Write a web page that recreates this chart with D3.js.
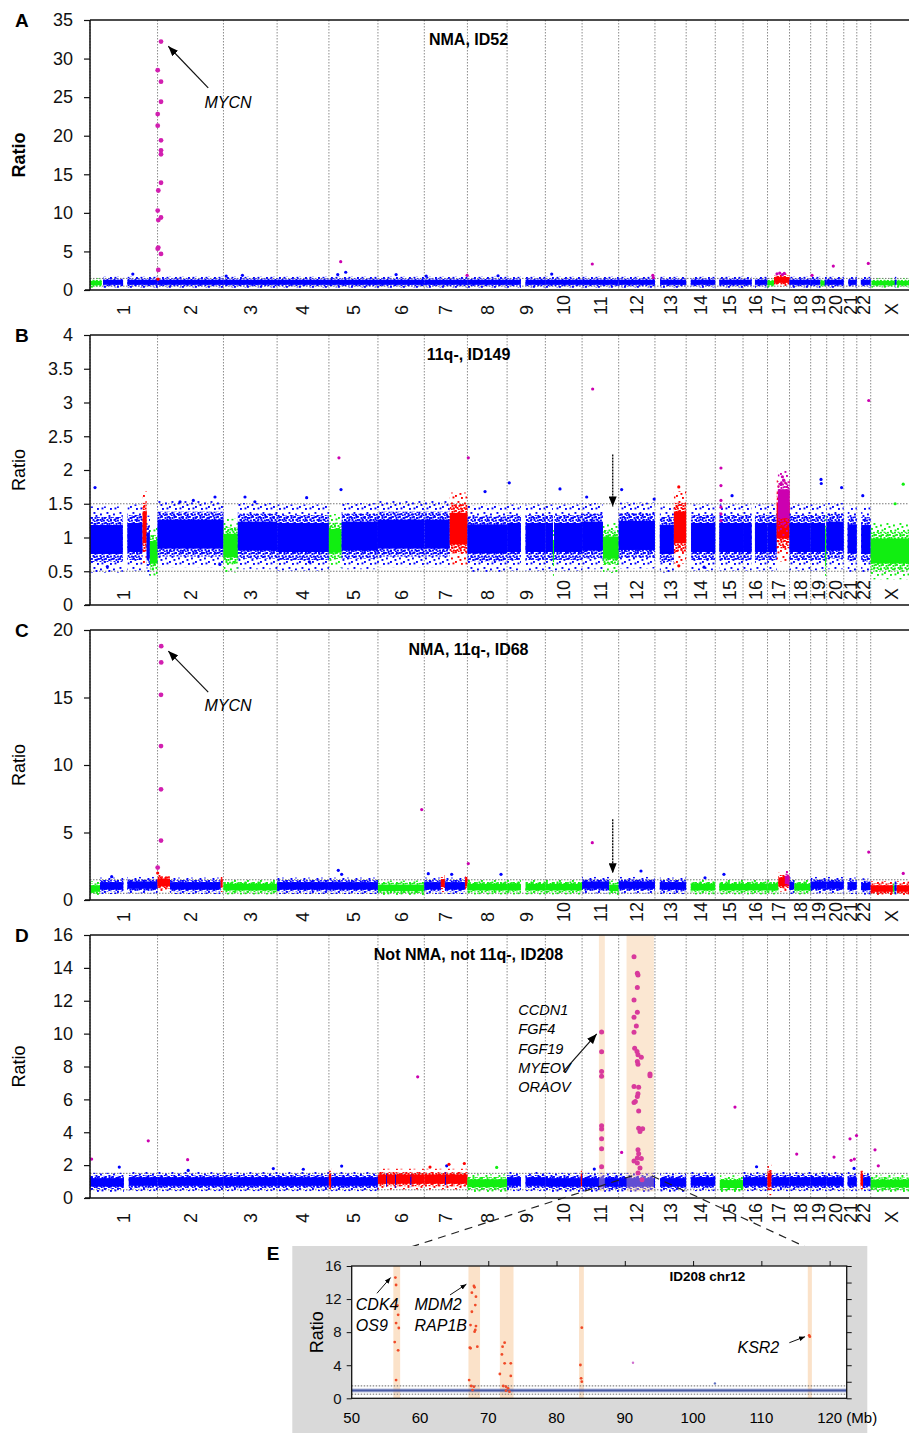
<!DOCTYPE html>
<html>
<head>
<meta charset="utf-8">
<script src="https://cdn.jsdelivr.net/npm/d3@7"></script>
<style>
  body { margin: 0; background: #fff; }
  text { font-family: "Liberation Sans", Arial, Helvetica, sans-serif; }
</style>
</head>
<body>
<svg id="fig" width="909" height="1433"></svg>
<script>
// ---- genome (hg19 chromosome lengths, Mb) ----
const chrNames = ['1','2','3','4','5','6','7','8','9','10','11','12','13','14','15','16','17','18','19','20','21','22','X'];
const chrLengths = [249.25,243.2,198.0,191.15,180.9,171.1,159.1,146.4,141.2,135.5,135.0,133.85,115.2,107.35,102.5,90.35,81.2,78.1,59.1,63.0,48.1,51.3,155.3];

// segments: [chr, startMb, endMb, colour, mean ratio, spread]
const segA = [
  ['1',0,43,'g',0.9,0.15],['1',48,122,'b',1.0,0.2],['1',138,249.25,'b',1.0,0.2],
  ['2',0,243.2,'b',1.0,0.2],['3',0,198,'b',1.0,0.2],['4',0,191.15,'b',1.0,0.2],
  ['5',0,180.9,'b',1.0,0.2],['6',0,171.1,'b',1.0,0.2],['7',0,159.1,'b',1.0,0.2],
  ['8',0,146.4,'b',1.0,0.2],['9',0,51,'b',1.0,0.2],['9',68,141.2,'b',1.0,0.2],
  ['10',0,135.5,'b',1.0,0.2],['11',0,135,'b',1.0,0.2],['12',0,133.85,'b',1.0,0.2],
  ['13',19,115.2,'b',1.0,0.2],['14',17,107.35,'b',1.0,0.2],['15',15,102.5,'b',1.0,0.2],
  ['16',0,32,'b',1.0,0.2],['16',44,90.35,'b',1.0,0.2],
  ['17',0,24,'g',0.9,0.15],['17',24,81.2,'r',1.3,0.25],
  ['18',0,78.1,'b',1.0,0.2],['19',0,36,'b',1.0,0.2],['19',36,52,'g',0.9,0.15],['19',52,59.1,'b',1.0,0.2],
  ['20',0,63,'b',1.0,0.2],['21',17,48.1,'b',1.0,0.2],['22',15,51.3,'b',1.0,0.2],
  ['X',3,89,'g',0.9,0.15],['X',89,96,'b',1.0,0.2],['X',96,155.3,'g',0.9,0.15]
];
const segB = [
  ['1',0,121,'b',0.97,0.2],['1',138,194,'b',1.0,0.2],['1',194,209,'r',1.15,0.22],
  ['1',209,221,'b',0.88,0.18],['1',221,249.25,'g',0.78,0.15],
  ['2',0,243.2,'b',1.05,0.2],['3',0,53,'g',0.88,0.16],['3',53,198,'b',1.02,0.2],
  ['4',0,191.15,'b',1.0,0.2],['5',0,47,'g',0.95,0.16],['5',47,180.9,'b',1.02,0.2],
  ['6',0,171.1,'b',1.05,0.2],['7',0,94,'b',1.05,0.2],['7',94,159.1,'r',1.13,0.22],
  ['8',0,146.4,'b',0.98,0.2],['9',0,51,'b',1.0,0.2],['9',68,141.2,'b',1.0,0.2],
  ['10',0,28,'b',1.0,0.2],['10',28,32,'g',0.8,0.15],['10',32,135.5,'b',1.0,0.2],
  ['11',0,77,'b',1.02,0.2],['11',77,135,'g',0.85,0.15],['12',0,133.85,'b',1.03,0.2],
  ['13',18,70,'b',0.97,0.2],['13',70,115.2,'r',1.15,0.22],['14',18,107.35,'b',1.0,0.2],
  ['15',15,102.5,'b',1.0,0.2],['16',0,32,'b',1.0,0.2],['16',44,90.35,'b',1.0,0.2],
  ['17',0,34,'b',1.0,0.2],['17',34,81.2,'r',1.25,0.25],['17',38,81.2,'m',1.5,0.2],
  ['18',0,78.1,'b',1.0,0.2],['19',0,53,'b',1.0,0.2],['19',53,57,'g',0.85,0.2],['19',57,59.1,'b',1.0,0.2],
  ['20',0,63,'b',1.02,0.2],['21',14,48.1,'b',0.98,0.2],['22',16,51.3,'b',0.97,0.2],
  ['X',0,155.3,'g',0.8,0.17]
];
const segC = [
  ['1',0,37,'g',0.85,0.17],['1',37,123,'b',1.05,0.2],['1',138,249.25,'b',1.1,0.2],
  ['2',0,46,'r',1.3,0.22],['2',46,233,'b',1.05,0.2],['2',233,240,'r',1.25,0.22],
  ['3',0,198,'g',0.95,0.17],['4',0,191.15,'b',1.05,0.2],['5',0,180.9,'b',1.05,0.2],
  ['6',0,171.1,'g',0.9,0.17],['7',0,61,'b',1.05,0.2],['7',61,76,'r',1.25,0.22],
  ['7',76,150,'b',1.05,0.2],['7',150,159.1,'r',1.3,0.22],
  ['8',0,146.4,'g',0.95,0.17],['9',0,51,'g',0.95,0.17],['9',68,141.2,'g',0.95,0.17],
  ['10',0,135.5,'g',0.95,0.17],['11',0,100,'b',1.1,0.2],['11',100,135,'g',0.9,0.17],
  ['12',0,133.85,'b',1.1,0.2],['13',18,115.2,'b',1.05,0.2],['14',17,107.35,'g',0.95,0.17],
  ['15',15,102.5,'g',0.95,0.17],['16',0,90.35,'g',0.95,0.17],
  ['17',0,40,'g',0.95,0.17],['17',40,81.2,'r',1.35,0.25],['17',64,80,'m',1.5,0.22],
  ['18',0,18,'b',1.05,0.2],['18',18,78.1,'g',0.95,0.17],['19',0,59.1,'b',1.1,0.2],
  ['20',0,63,'b',1.1,0.2],['21',14,48.1,'b',1.05,0.2],['22',16,51.3,'b',1.0,0.2],
  ['X',0,82,'r',0.85,0.17],['X',82,88,'g',0.85,0.17],['X',88,96,'b',0.9,0.17],['X',96,155.3,'r',0.85,0.17]
];
const segD = [
  ['1',0,125,'b',0.95,0.2],['1',143,249.25,'b',1.0,0.2],['2',0,243.2,'b',1.0,0.2],
  ['3',0,198,'b',1.0,0.2],['4',0,191.15,'b',1.0,0.2],['5',0,8,'r',1.1,0.3],['5',8,180.9,'b',1.0,0.2],
  ['6',0,171.1,'r',1.15,0.22],['7',0,159.1,'r',1.15,0.22],
  ['6',30,33,'b',1.05,0.2],['6',63,66,'b',1.05,0.2],['6',120,123,'b',1.05,0.2],['7',77,80,'b',1.05,0.2],
  ['8',0,146.4,'g',0.9,0.18],['9',0,51,'b',1.0,0.2],['9',68,141.2,'b',1.0,0.2],
  ['10',0,131,'b',0.95,0.2],['10',131,135.5,'r',1.1,0.3],['11',0,135,'b',0.95,0.2],
  ['12',0,133.85,'b',0.95,0.2],['13',19,115.2,'b',0.95,0.2],['14',17,107.35,'b',1.0,0.2],
  ['15',17,102.5,'g',0.85,0.18],['16',0,90.35,'b',1.0,0.2],
  ['17',0,15,'r',1.1,0.35],['17',15,81.2,'b',1.0,0.2],['18',0,78.1,'b',1.0,0.2],
  ['19',0,59.1,'b',1.0,0.2],['20',0,63,'b',1.0,0.2],['21',14,48.1,'b',1.0,0.2],
  ['22',14,23,'r',1.1,0.3],['22',23,51.3,'b',1.0,0.2],['X',0,155.3,'g',0.88,0.18]
];

// single probes off the band: [chr, Mb, ratio, colour]
const ptsA = [
  ['1',158,2.07,'b'],['2',1.5,1.4,'r'],['3',10,1.8,'b'],['3',70,1.9,'b'],['5',32.5,2.0,'b'],
  ['5',43.5,3.67,'m'],['5',62,2.3,'b'],['6',67,2.0,'b'],['7',7,1.8,'b'],['7',158,1.9,'m'],
  ['8',113,1.85,'b'],['10',23.4,2.07,'b'],['11',37.7,3.37,'m'],['12',126,1.9,'m'],['12',128,1.6,'m'],
  ['17',35,2.1,'m'],['17',45,2.2,'m'],['17',55,2.0,'m'],['17',62,2.15,'m'],['19',5,1.9,'m'],
  ['20',24.4,3.1,'m'],['22',42.4,3.45,'m']
];
const ptsB = [
  ['1',18.5,1.74,'b'],['1',64,0.57,'b'],['2',83,1.53,'b'],['2',132,1.55,'b'],['2',212,1.6,'b'],
  ['2',230,0.6,'b'],['3',79.5,1.6,'b'],['3',116,1.53,'b'],['4',109,1.59,'b'],['4',119,0.64,'b'],
  ['5',37,2.18,'m'],['5',44.6,1.71,'b'],['8',3.3,2.18,'m'],['8',65,1.68,'b'],['9',8,1.81,'b'],
  ['10',54,1.72,'b'],['11',17,1.6,'b'],['11',39,3.2,'m'],['12',11,1.71,'b'],['12',131,1.57,'b'],
  ['13',88,1.75,'r'],['13',88,0.58,'r'],['14',66,0.56,'b'],['15',21,2.03,'m'],['15',21,1.77,'m'],
  ['15',21,1.55,'m'],['15',21,1.45,'m'],['15',21,1.35,'m'],['15',21,1.25,'m'],['15',62,1.62,'b'],
  ['17',50,1.8,'m'],['17',55,1.9,'m'],['17',60,1.85,'m'],
  ['19',38,1.86,'b'],['19',39,1.8,'b'],['20',55,1.74,'b'],['22',22,1.62,'b'],['22',44,3.03,'m'],
  ['X',90,1.5,'g'],['X',120,1.79,'g']
];
const ptsC = [
  ['1',80,1.73,'b'],['2',0.5,2.0,'r'],['5',34.6,2.2,'b'],['5',47,1.9,'b'],['6',161.5,6.7,'m'],
  ['7',14.7,1.95,'b'],['7',101,1.9,'b'],['8',3.3,2.7,'m'],['8',124,1.9,'b'],['11',37.7,4.25,'m'],
  ['12',82.4,2.15,'b'],['14',69.5,1.65,'b'],['15',32,1.9,'b'],['22',43.9,3.55,'m'],['X',120,1.97,'m']
];
const ptsD = [
  ['1',6,2.37,'m'],['1',108,1.88,'b'],['1',215,3.48,'m'],['2',111,2.33,'m'],['2',113,1.68,'b'],
  ['3',184,1.79,'b'],['4',96.7,1.75,'b'],['5',47,1.94,'b'],['6',146.7,7.37,'m'],['7',21,1.88,'r'],
  ['7',82.6,1.96,'b'],['7',91,2.05,'r'],['7',147.7,2.1,'r'],['8',108,1.86,'g'],['11',45,1.76,'b'],
  ['12',11,2.77,'m'],['15',72.8,5.53,'m'],['16',50,1.9,'b'],['18',26.5,2.67,'m'],['20',27,2.49,'m'],
  ['21',23,3.6,'m'],['21',27,2.29,'m'],['21',38,1.8,'b'],['21',39,2.37,'m'],['21',47,3.8,'m'],
  ['X',15.8,2.93,'m'],['X',28,1.96,'m']
];

// amplified probes: [chr, Mb, ratio]
const mycnA = [
  ['2',12.7,32.2],['2',0.6,28.5],['2',12.7,27.0],['2',12.7,24.4],['2',0.6,22.8],['2',0.6,21.3],
  ['2',12.7,19.4],['2',12.7,18.1],['2',12.7,17.6],['2',12.7,13.9],['2',2.8,12.9],['2',0.6,10.3],
  ['2',12.7,9.4],['2',2.8,9.07],['2',2.8,5.5],['2',0.6,5.36],['2',12.7,4.67],['2',2.8,2.6]
];
const mycnC = [['2',13.5,18.8],['2',13.5,17.6],['2',12.7,15.2],['2',12.7,11.4],['2',12.7,8.2],['2',12.7,4.4],['2',0.5,2.4]];
const ampD = [
  ['11',72,10.1],['11',72,8.9],['11',72,7.7],['11',72,7.4],['11',72,4.4],['11',72,4.2],['11',72,3.6],['11',72,3.0],['11',72,1.9],
  ['12',56.6,14.68],['12',68.9,13.67],['12',71.3,13.57],['12',68.9,12.8],['12',56.6,12.05],['12',68.9,11.3],
  ['12',56.6,11.0],['12',65.2,10.47],['12',56.6,10.08],['12',59.0,9.11],['12',67.6,8.91],['12',71.3,8.71],
  ['12',83.6,8.57],['12',68.9,8.3],['12',71.3,8.14],['12',115.6,7.55],['12',115.6,7.43],['12',56.6,6.78],
  ['12',73.8,6.74],['12',71.3,6.34],['12',68.9,6.17],['12',61.5,5.87],['12',56.6,5.81],['12',73.8,5.3],
  ['12',73.8,4.25],['12',88.5,4.21],['12',78.7,4.05],['12',71.3,2.93],['12',73.8,2.69],['12',68.9,2.43],
  ['12',83.6,2.41],['12',56.6,2.25],['12',68.9,2.13],['12',78.7,1.82],['12',71.3,1.52],['12',86.1,1.11]
];
const highlightD = [['11',62,84],['12',29,130]];

// inset E, chromosome 12 (Mb, ratio)
const ampE = [
  [56.4,14.6],[56.5,13.7],[56.7,11.2],[56.8,10.1],[56.5,9.1],[56.9,8.5],[56.3,6.8],[56.8,5.8],[56.5,2.2],
  [67.9,13.58],[68.0,13.42],[67.6,12.77],[68.2,12.29],[68.1,11.28],[67.6,10.47],[67.4,8.86],[68.2,8.74],
  [68.1,8.26],[68.0,8.06],[68.4,6.24],[67.3,6.12],[67.4,6.05],[67.2,2.21],[67.5,1.49],[67.9,1.41],[67.7,1.0],
  [72.4,6.73],[72.1,6.24],[72.0,5.31],[72.4,4.23],[73.3,4.23],[71.7,2.94],[73.3,2.70],[72.2,1.49],
  [72.6,1.41],[72.9,1.21],[72.6,0.92],[73.1,0.8],
  [83.7,8.54],[83.5,4.03],[83.6,2.42],[83.7,2.01],
  [117.0,7.6],[117.1,7.45]
];
const ptsE = [[91.2,4.3,'m'],[103.2,1.8,'b']];
const bandsE = [[56.1,57.1],[67.1,68.8],[71.7,73.7],[83.3,84.0],[116.8,117.4]];
const baseE = [50,122.5,0.95,0.12];
const thresholds = [0.5,1.5];

const colors = {b:'#0000ff', g:'#11ee11', r:'#ff0000', m:'#cc00b0'};

// ---- layout ----
const panels = [
  {id:'A', top:20,  bottom:290,  yMax:35, step:5,   labelY:315,  title:'NMA, ID52',               boldRatio:true,  segs:segA, pts:ptsA},
  {id:'B', top:335, bottom:605,  yMax:4,  step:0.5, labelY:600,  title:'11q-, ID149',             boldRatio:false, segs:segB, pts:ptsB},
  {id:'C', top:630, bottom:900,  yMax:20, step:5,   labelY:922,  title:'NMA, 11q-, ID68',         boldRatio:false, segs:segC, pts:ptsC},
  {id:'D', top:935, bottom:1198, yMax:16, step:2,   labelY:1223, title:'Not NMA, not 11q-, ID208', boldRatio:false, segs:segD, pts:ptsD}
];

const chrStart = {};
chrNames.forEach((c, i) => { chrStart[c] = d3.sum(chrLengths.slice(0, i)); });
const total = d3.sum(chrLengths);
const x = d3.scaleLinear().domain([0, total]).range([90, 912.8]);
const gx = (c, mb) => x(chrStart[c] + mb);

const svg = d3.select('#fig');
const defs = svg.append('defs');

defs.append('marker')
    .attr('id', 'arrow')
    .attr('viewBox', '0 0 10 8')
    .attr('refX', 10).attr('refY', 4)
    .attr('markerWidth', 10).attr('markerHeight', 8)
    .attr('markerUnits', 'userSpaceOnUse')
    .attr('orient', 'auto')
  .append('path')
    .attr('d', 'M0,0L10,4L0,8Z')
    .attr('fill', '#000');

defs.append('marker')
    .attr('id', 'arrowSmall')
    .attr('viewBox', '0 0 10 8')
    .attr('refX', 10).attr('refY', 4)
    .attr('markerWidth', 6).attr('markerHeight', 5)
    .attr('markerUnits', 'userSpaceOnUse')
    .attr('orient', 'auto')
  .append('path')
    .attr('d', 'M0,0L10,4L0,8Z')
    .attr('fill', '#000');

// speckle textures for the fringe of each probe cloud (dense inner, sparse outer)
const speckDense = {w: 7, h: 6, dots: [[0,0],[3.5,1],[1.5,3],[5,3.6],[2.8,4.6],[5.6,0.4]]};
const speckSparse = {w: 13, h: 11, dots: [[0,0],[6,2],[2.5,6],[9,7.5],[10.5,1.5],[4.5,9]]};
Object.entries(colors).forEach(([k, c]) => {
  [['d', speckDense], ['s', speckSparse]].forEach(([tag, sp]) => {
    const p = defs.append('pattern')
        .attr('id', `spk-${k}-${tag}`)
        .attr('width', sp.w).attr('height', sp.h)
        .attr('patternUnits', 'userSpaceOnUse');
    sp.dots.forEach(([a, b]) =>
      p.append('rect').attr('x', a).attr('y', b).attr('width', 1.9).attr('height', 1.9).attr('fill', c));
  });
});

panels.forEach(p => drawPanel(p));
drawInset();

function drawPanel(p) {
  const y = d3.scaleLinear().domain([0, p.yMax]).range([p.bottom, p.top]);
  const g = svg.append('g').attr('class', 'panel-' + p.id);

  g.append('g').selectAll('line')
    .data(chrNames)
    .join('line')
      .attr('x1', d => gx(d, 0)).attr('x2', d => gx(d, 0))
      .attr('y1', p.top).attr('y2', p.bottom)
      .attr('stroke', '#8c8c8c').attr('stroke-dasharray', '1.5,1.5');

  g.append('g').selectAll('line')
    .data(thresholds)
    .join('line')
      .attr('x1', 90).attr('x2', 909)
      .attr('y1', d => y(d)).attr('y2', d => y(d))
      .attr('stroke', '#777').attr('stroke-dasharray', '1.5,1.5');

  // probe clouds: sparse fringe, dense fringe, solid core
  const layers = [[2.3, 2, 's'], [1.55, 1.5, 'd'], [1, 1, null]];
  g.append('g').selectAll('g')
    .data(p.segs)
    .join('g')
    .each(function(d) {
      const s = d3.select(this);
      const x0 = gx(d[0], d[1]), w = gx(d[0], d[2]) - x0;
      layers.forEach(([k, pad, tag]) => {
        const hi = y(d[4] + k * d[5]) - pad, lo = y(d[4] - k * d[5]) + pad;
        s.append('rect')
            .attr('x', x0).attr('width', w)
            .attr('y', hi).attr('height', lo - hi)
            .attr('fill', tag ? `url(#spk-${d[3]}-${tag})` : colors[d[3]]);
      });
    });

  if (p.id === 'D') {
    g.append('g').selectAll('rect')
      .data(highlightD)
      .join('rect')
        .attr('x', d => gx(d[0], d[1]))
        .attr('width', d => gx(d[0], d[2]) - gx(d[0], d[1]))
        .attr('y', p.top)
        .attr('height', y(0.4) - p.top)
        .attr('fill', '#f5c28f')
        .attr('opacity', 0.4);
  }

  g.append('g').selectAll('circle')
    .data(p.pts)
    .join('circle')
      .attr('cx', d => gx(d[0], d[1]))
      .attr('cy', d => y(d[2]))
      .attr('r', 1.6)
      .attr('fill', d => colors[d[3]]);

  const amps = p.id === 'A' ? mycnA : p.id === 'C' ? mycnC : p.id === 'D' ? ampD : [];
  g.append('g').selectAll('circle')
    .data(amps)
    .join('circle')
      .attr('cx', d => gx(d[0], d[1]))
      .attr('cy', d => y(d[2]))
      .attr('r', p.id === 'D' ? 2.5 : 2.4)
      .attr('fill', p.id === 'D' ? '#d83a9c' : '#d21fb0');

  // frame
  g.append('line').attr('x1', 90).attr('x2', 909).attr('y1', p.top).attr('y2', p.top)
      .attr('stroke', '#111').attr('stroke-width', 1.5);
  g.append('line').attr('x1', 85).attr('x2', 909).attr('y1', p.bottom).attr('y2', p.bottom)
      .attr('stroke', '#111').attr('stroke-width', 1.5);
  g.append('line').attr('x1', 90).attr('x2', 90).attr('y1', p.top).attr('y2', p.bottom)
      .attr('stroke', '#111').attr('stroke-width', 1.5);

  const ticks = d3.range(0, p.yMax + p.step / 2, p.step);
  g.append('g')
      .attr('transform', 'translate(90,0)')
      .call(d3.axisLeft(y).tickValues(ticks).tickSize(6).tickSizeOuter(0).tickPadding(11).tickFormat(d => d))
      .call(a => a.select('.domain').remove())
      .call(a => a.selectAll('line').attr('stroke', '#111').attr('stroke-width', 1.2))
      .call(a => a.selectAll('text').attr('font-size', 18).attr('fill', '#111')
          .attr('font-family', '"Liberation Sans", Arial, sans-serif'));

  g.append('g').selectAll('text')
    .data(chrNames)
    .join('text')
      .attr('transform', d => `translate(${gx(d, chrLengths[chrNames.indexOf(d)] / 2)},${p.labelY}) rotate(-90)`)
      .attr('dy', '0.36em')
      .attr('font-size', 18)
      .attr('fill', '#111')
      .text(d => d);

  g.append('text')
      .attr('transform', `translate(25,${(p.top + p.bottom) / 2}) rotate(-90)`)
      .attr('text-anchor', 'middle')
      .attr('font-size', 18)
      .attr('font-weight', p.boldRatio ? 'bold' : 'normal')
      .text('Ratio');

  g.append('text')
      .attr('x', 15).attr('y', p.top + 7)
      .attr('font-size', 19).attr('font-weight', 'bold')
      .text(p.id);

  g.append('text')
      .attr('x', 468.5).attr('y', p.top + 25)
      .attr('text-anchor', 'middle')
      .attr('font-size', 16).attr('font-weight', 'bold')
      .text(p.title);

  // annotations
  if (p.id === 'A' || p.id === 'C') {
    const v = p.id === 'A' ? [26.2, 31.6, 23.6] : [15.4, 18.44, 14.0];
    g.append('line')
        .attr('x1', gx('2', 187)).attr('y1', y(v[0]))
        .attr('x2', gx('2', 39.7)).attr('y2', y(v[1]))
        .attr('stroke', '#111').attr('stroke-width', 1.2)
        .attr('marker-end', 'url(#arrow)');
    g.append('text')
        .attr('x', gx('2', 173)).attr('y', y(v[2]))
        .attr('font-size', 16).attr('font-style', 'italic')
        .text('MYCN');
  }
  if (p.id === 'B' || p.id === 'C') {
    const v = p.id === 'B' ? [2.23, 1.46] : [5.98, 1.98];
    g.append('line')
        .attr('x1', gx('11', 113)).attr('y1', y(v[0]))
        .attr('x2', gx('11', 113)).attr('y2', y(v[1]))
        .attr('stroke', '#111').attr('stroke-width', 1.4)
        .attr('stroke-dasharray', '2,1')
        .attr('marker-end', 'url(#arrow)');
  }
  if (p.id === 'D') {
    g.append('line')
        .attr('x1', gx('10', 66.2)).attr('y1', y(7.69))
        .attr('x2', gx('11', 54)).attr('y2', y(9.98))
        .attr('stroke', '#111').attr('stroke-width', 1.2)
        .attr('marker-end', 'url(#arrow)');
    g.append('text')
        .attr('font-size', 14.5).attr('font-style', 'italic')
        .attr('font-family', '"Liberation Sans Narrow", "Liberation Sans", Arial, sans-serif')
      .selectAll('tspan')
      .data(['CCDN1', 'FGF4', 'FGF19', 'MYEOV', 'ORAOV'])
      .join('tspan')
        .attr('x', gx('9', 41.3))
        .attr('y', (d, i) => y(11.14) + i * 19.4)
        .text(d => d);

    // dashed links down to the inset
    const xE = insetX();
    const yE = insetY();
    g.append('g').selectAll('line')
      .data([baseE[0], baseE[1]])
      .join('line')
        .attr('x1', d => gx('12', d)).attr('y1', y(1.35))
        .attr('x2', d => xE(d)).attr('y2', yE(16))
        .attr('stroke', '#222').attr('stroke-width', 1.2)
        .attr('stroke-dasharray', '8,6');
  }
}

function insetX() { return d3.scaleLinear().domain([baseE[0], baseE[1]]).range([351.7, 846.7]); }
function insetY() { return d3.scaleLinear().domain([0, 16]).range([1398.3, 1266]); }

function drawInset() {
  const xE = insetX();
  const yE = insetY();
  const g = svg.append('g').attr('class', 'inset');

  g.append('rect').attr('x', 292.3).attr('y', 1246).attr('width', 575).attr('height', 190).attr('fill', '#d9d9d9');
  g.append('rect').attr('x', xE.range()[0]).attr('y', yE.range()[1])
      .attr('width', xE.range()[1] - xE.range()[0]).attr('height', yE.range()[0] - yE.range()[1])
      .attr('fill', '#fff');

  g.append('g').selectAll('rect')
    .data(bandsE)
    .join('rect')
      .attr('x', d => xE(d[0])).attr('width', d => xE(d[1]) - xE(d[0]))
      .attr('y', yE(16)).attr('height', yE(0) - yE(16))
      .attr('fill', '#fbe2c9');

  g.append('g').selectAll('line')
    .data(thresholds)
    .join('line')
      .attr('x1', xE.range()[0]).attr('x2', xE.range()[1])
      .attr('y1', d => yE(d)).attr('y2', d => yE(d))
      .attr('stroke', '#666').attr('stroke-dasharray', '1.5,1.5');

  g.append('rect')
      .attr('x', xE(baseE[0])).attr('width', xE(baseE[1]) - xE(baseE[0]))
      .attr('y', yE(baseE[2] + 2 * baseE[3])).attr('height', yE(baseE[2] - 2 * baseE[3]) - yE(baseE[2] + 2 * baseE[3]))
      .attr('fill', '#34489c').attr('opacity', 0.35);
  g.append('rect')
      .attr('x', xE(baseE[0])).attr('width', xE(baseE[1]) - xE(baseE[0]))
      .attr('y', yE(baseE[2] + baseE[3])).attr('height', yE(baseE[2] - baseE[3]) - yE(baseE[2] + baseE[3]))
      .attr('fill', '#34489c').attr('opacity', 0.85);

  g.append('g').selectAll('circle')
    .data(ptsE)
    .join('circle')
      .attr('cx', d => xE(d[0])).attr('cy', d => yE(d[1]))
      .attr('r', 1.2).attr('fill', d => d[2] === 'm' ? '#d070d0' : '#6070c0');

  g.append('g').selectAll('circle')
    .data(ampE)
    .join('circle')
      .attr('cx', d => xE(d[0])).attr('cy', d => yE(d[1]))
      .attr('r', 1.4).attr('fill', '#f04a28');

  g.append('rect').attr('x', xE.range()[0]).attr('y', yE.range()[1])
      .attr('width', xE.range()[1] - xE.range()[0]).attr('height', yE.range()[0] - yE.range()[1])
      .attr('fill', 'none').attr('stroke', '#111').attr('stroke-width', 1.3);

  const axisStyle = a => a
      .call(s => s.select('.domain').remove())
      .call(s => s.selectAll('line').attr('stroke', '#111'))
      .call(s => s.selectAll('text').attr('font-size', 15).attr('fill', '#111')
          .attr('font-family', '"Liberation Sans", Arial, sans-serif'));

  g.append('g')
      .attr('transform', `translate(${xE.range()[0]},0)`)
      .call(d3.axisLeft(yE).tickValues([0, 4, 8, 12, 16]).tickSize(5).tickPadding(5))
      .call(axisStyle);
  g.append('g')
      .attr('transform', `translate(${xE.range()[1]},0)`)
      .call(d3.axisRight(yE).tickValues(d3.range(0, 17, 2)).tickSize(5).tickFormat(''))
      .call(axisStyle);
  g.append('g')
      .attr('transform', `translate(0,${yE.range()[1]})`)
      .call(d3.axisTop(xE).tickValues(d3.range(60, 121, 10)).tickSize(5).tickFormat(''))
      .call(axisStyle);

  g.append('g').selectAll('text')
    .data(d3.range(50, 121, 10))
    .join('text')
      .attr('x', d => d === 120 ? xE(d) - 12.5 : xE(d))
      .attr('y', yE(0) + 25)
      .attr('text-anchor', d => d === 120 ? 'start' : 'middle')
      .attr('font-size', 15)
      .text(d => d === 120 ? '120 (Mb)' : d);

  g.append('text')
      .attr('transform', `translate(${xE.range()[0] - 29},${(yE.range()[0] + yE.range()[1]) / 2}) rotate(-90)`)
      .attr('text-anchor', 'middle')
      .attr('font-size', 18)
      .text('Ratio');

  g.append('text').attr('x', 266.7).attr('y', 1260)
      .attr('font-size', 19).attr('font-weight', 'bold').text('E');

  g.append('text')
      .attr('x', xE(102.1)).attr('y', yE(14.2))
      .attr('text-anchor', 'middle')
      .attr('font-size', 13.5).attr('font-weight', 'bold')
      .text('ID208 chr12');

  const genes = [
    {lines: ['CDK4', 'OS9'], at: [50.6, 10.7], from: [53.7, 12.7], to: [55.7, 14.6]},
    {lines: ['MDM2', 'RAP1B'], at: [59.2, 10.7], from: [64.4, 12.5], to: [66.8, 13.8]},
    {lines: ['KSR2'], at: [106.5, 5.48], from: [114.1, 6.72], to: [116.4, 7.45]}
  ];
  genes.forEach(gn => {
    g.append('text')
        .attr('font-size', 16).attr('font-style', 'italic')
      .selectAll('tspan')
      .data(gn.lines)
      .join('tspan')
        .attr('x', xE(gn.at[0]))
        .attr('y', (d, i) => yE(gn.at[1]) + i * 21)
        .text(d => d);
    g.append('line')
        .attr('x1', xE(gn.from[0])).attr('y1', yE(gn.from[1]))
        .attr('x2', xE(gn.to[0])).attr('y2', yE(gn.to[1]))
        .attr('stroke', '#111').attr('stroke-width', 1)
        .attr('marker-end', 'url(#arrowSmall)');
  });
}
</script>
</body>
</html>
